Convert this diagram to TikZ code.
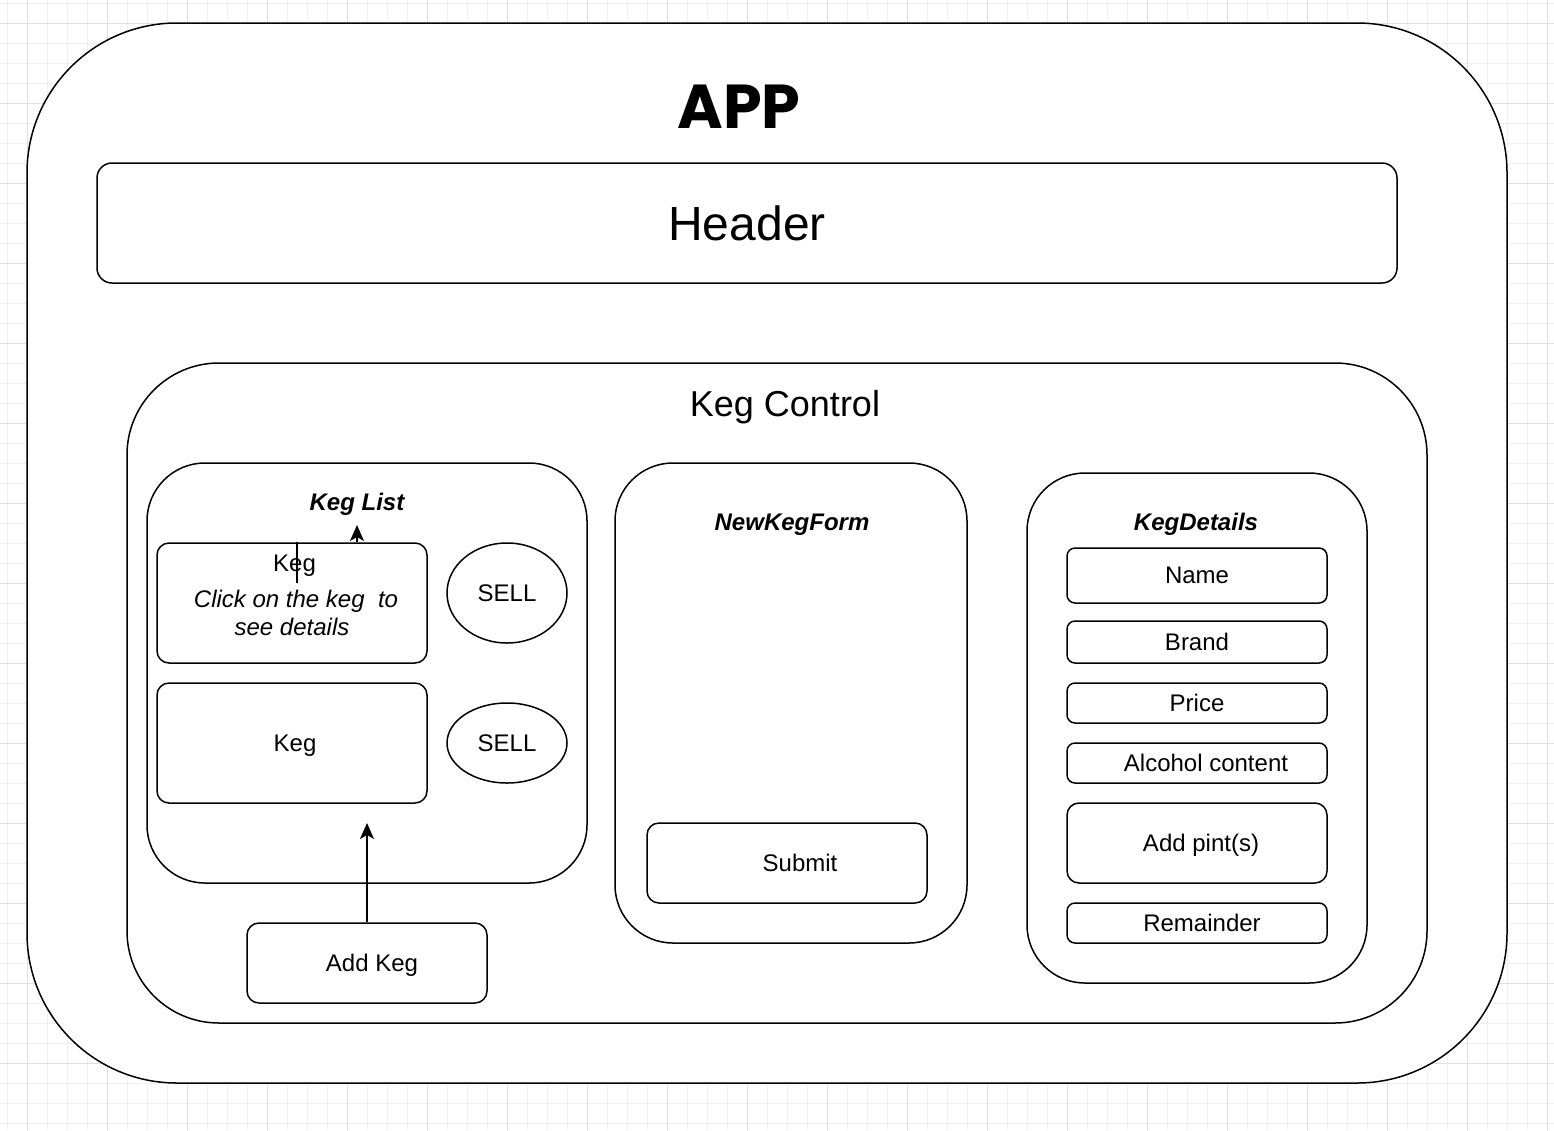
\documentclass[tikz,border=0pt]{standalone}
\usepackage{fontspec}
\setmainfont{Liberation Sans}
\newfontfamily\appfont{Poppins}
\usetikzlibrary{shapes.geometric,arrows.meta}

\begin{document}
\begin{tikzpicture}[x=1pt,y=-1pt,
    box/.style={draw=black,line width=1.5pt,rounded corners=#1,inner sep=0pt},
    box/.default=12pt,
    sell/.style={draw=black,line width=1.5pt,shape=ellipse,inner sep=0pt,font=\fontsize{24}{28}\selectfont},
    small/.style={font=\fontsize{24}{28}\selectfont,text depth=0pt},
    title/.style={font=\fontsize{24}{28}\selectfont\bfseries\itshape,text depth=0pt},
    arr/.style={line width=1.5pt,-{Stealth[length=16pt,width=14pt,inset=4pt]}}]
    \useasboundingbox (0,0) rectangle (1554,1130);

    % grid
    \foreach \gx in {7,27,...,1554} \draw[black!6,line width=1pt] (\gx,0) -- (\gx,1130);
    \foreach \gy in {3,23,...,1130} \draw[black!6,line width=1pt] (0,\gy) -- (1554,\gy);
    \foreach \gx in {27,107,...,1554} \draw[black!12,line width=1pt] (\gx,0) -- (\gx,1130);
    \foreach \gy in {23,103,...,1130} \draw[black!12,line width=1pt] (0,\gy) -- (1554,\gy);

    % insert containers
    \draw[box=150pt,fill=white] (27,23) rectangle (1507,1083);
    \node[font=\appfont\fontsize{62}{68}\selectfont\bfseries,text depth=0pt] (app) at (739,107) {APP};
    \node[box=15pt,minimum width=1300pt,minimum height=120pt,font=\fontsize{48}{54}\selectfont] (header) at (747,223) {Header};
    \node[box=92pt,minimum width=1300pt,minimum height=660pt] (control) at (777,693) {};
    \node[font=\fontsize{36}{40}\selectfont,text depth=0pt] (ctitle) at (785,403) {Keg Control};

    \node[box=58pt,minimum width=440pt,minimum height=420pt] (kegList) at (367,673) {};
    \node[title] (kltitle) at (357,502) {Keg List};
    \node[box=58pt,minimum width=352pt,minimum height=480pt] (newKegForm) at (791,703) {};
    \node[title] (nftitle) at (792,522) {NewKegForm};
    \node[box=58pt,minimum width=340pt,minimum height=510pt] (kegDetails) at (1197,728) {};
    \node[title] (kdtitle) at (1196,522) {KegDetails};

    % insert nodes
    \node[box,small,align=center,minimum width=270pt,minimum height=120pt] (keg1) at (292,603)
        {\hspace{5pt}Keg\\[8pt]\hspace{8pt}\itshape Click on the keg~ to\\\itshape see details\\[-12pt]\mbox{}};
    \node[sell,minimum width=120pt,minimum height=100pt] (sell1) at (507,593) {SELL};
    \node[box,small,minimum width=270pt,minimum height=120pt] (keg2) at (292,743) {\hspace{6pt}Keg};
    \node[sell,minimum width=120pt,minimum height=80pt] (sell2) at (507,743) {SELL};
    \node[box,small,minimum width=240pt,minimum height=80pt] (addKeg) at (367,963) {\hspace{10pt}Add Keg};
    \node[box,small,minimum width=280pt,minimum height=80pt] (submit) at (787,863) {\hspace{26pt}Submit};

    \node[box=8pt,small,minimum width=260pt,minimum height=55pt] (name) at (1197,575.5) {Name};
    \node[box=8pt,small,minimum width=260pt,minimum height=42pt] (brand) at (1197,642) {Brand};
    \node[box=8pt,small,minimum width=260pt,minimum height=40pt] (price) at (1197,703) {Price};
    \node[box=8pt,small,minimum width=260pt,minimum height=40pt] (alcohol) at (1197,763) {\hspace{18pt}Alcohol content};
    \node[box,small,minimum width=260pt,minimum height=80pt] (pints) at (1197,843) {\hspace{8pt}Add pint(s)};
    \node[box=8pt,small,minimum width=260pt,minimum height=40pt] (remainder) at (1197,923) {\hspace{10pt}Remainder};

    % insert links
    \coordinate (kltip) at (357,525);
    \coordinate (tick) at (297,583);
    \coordinate (addtip) at (367,823);
    \draw[arr] (kltip |- keg1.north) -- (kltip);
    \draw[line width=1.5pt] (tick |- keg1.north) -- (tick);
    \draw[arr] (addKeg.north) -- (addtip);
\end{tikzpicture}
\end{document}
